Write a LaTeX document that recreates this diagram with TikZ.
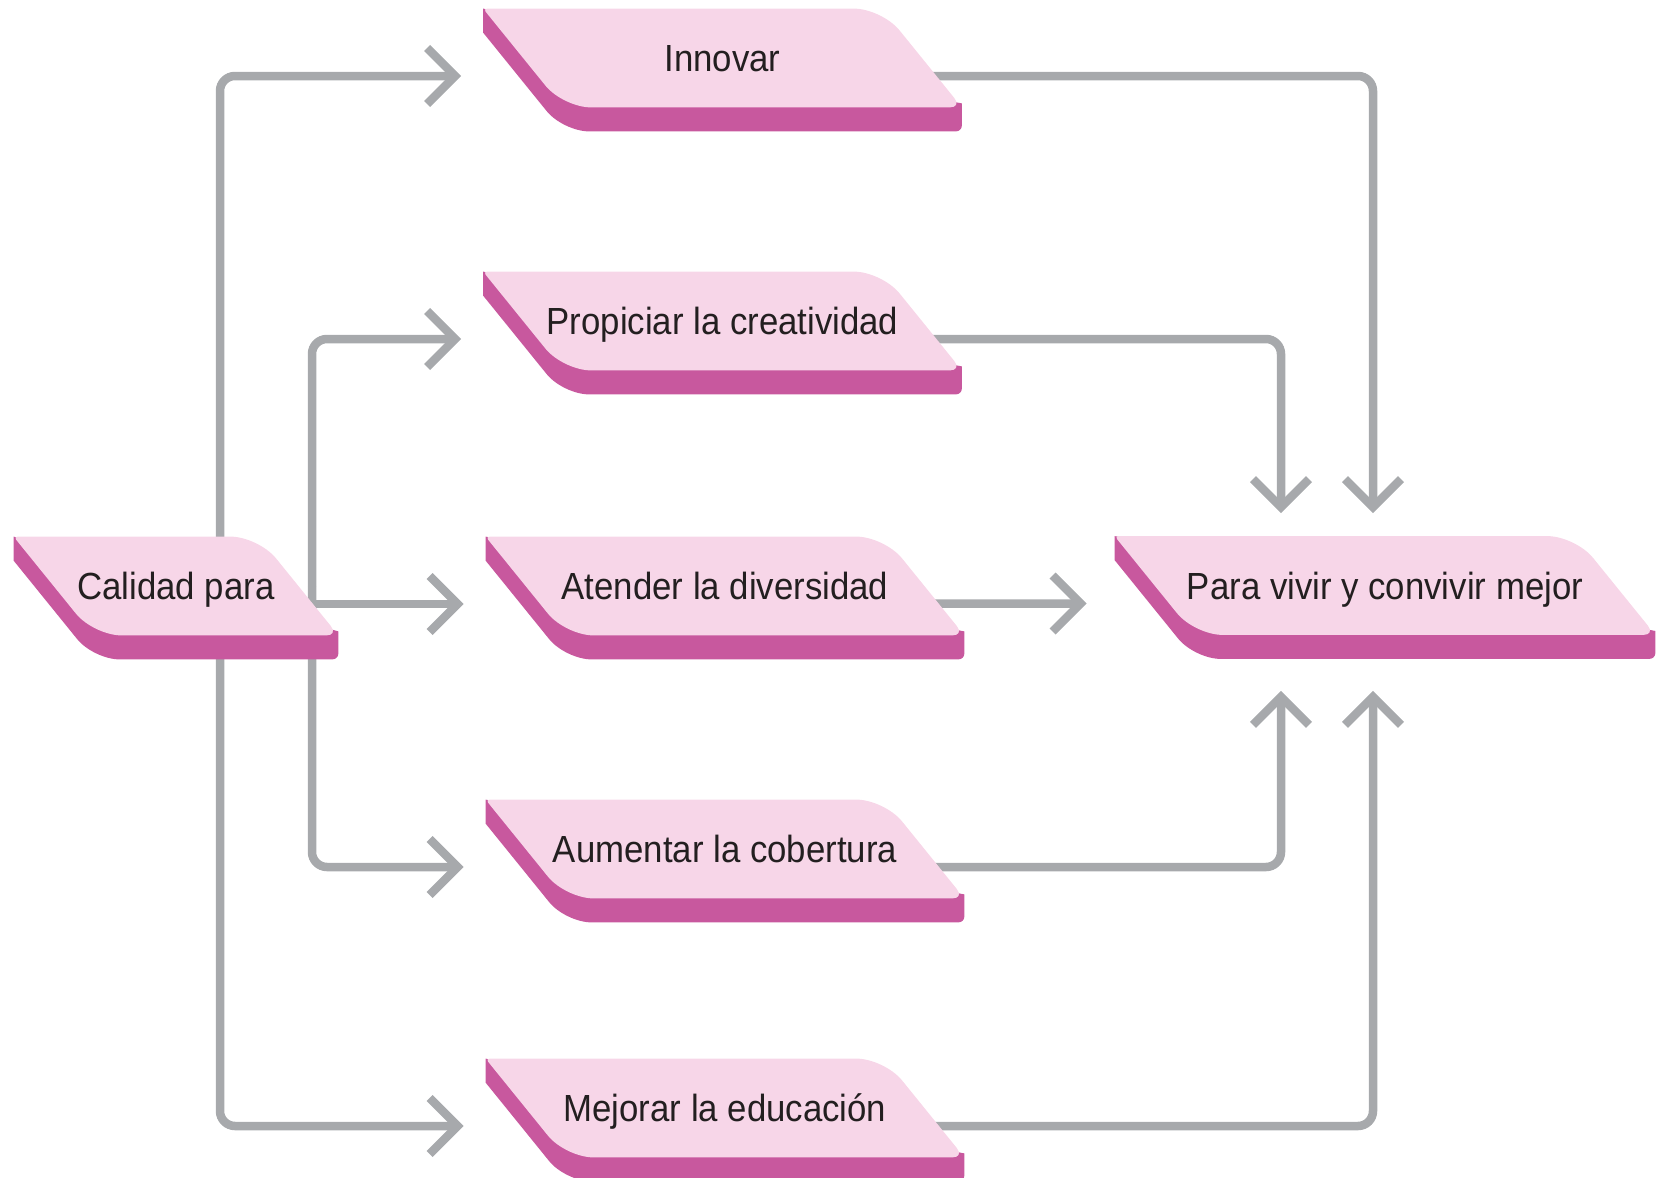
\documentclass[tikz,border=0pt]{standalone}
\usepackage{fontspec}
\setmainfont{Liberation Sans}[FakeStretch=0.92]
\usetikzlibrary{arrows.meta}

\definecolor{slabtop}{HTML}{F7D6E8}
\definecolor{slabside}{HTML}{C8589E}
\definecolor{linkgray}{HTML}{A7A9AC}
\definecolor{slabtext}{HTML}{231F20}

\pgfdeclarelayer{bg}
\pgfdeclarelayer{slabs}
\pgfsetlayers{bg,slabs,main}

\tikzset{
  slabnode/.style={rectangle, inner sep=0pt, minimum height=49pt,
    text height=13.5pt, text depth=0pt, text=slabtext,
    font=\fontsize{18.9pt}{22pt}\selectfont},
  link/.style={draw=linkgray, line width=4.25pt, rounded corners=7.5pt,
    -{Straight Barb[length=14pt,width=28pt]}}
}

\begin{document}
\begin{tikzpicture}[x=0.5pt, y=-0.5pt]
  \useasboundingbox (0,0) rectangle (1661,1178);

  \node[slabnode, minimum width=162pt] (calidad) at (176,586) {Calidad para};
  \node[slabnode, minimum width=239pt] (innovar) at (722.5,58) {Innovar};
  \node[slabnode, minimum width=239pt] (propiciar) at (722.5,321) {Propiciar la creatividad};
  \node[slabnode, minimum width=239pt] (atender) at (725,586) {Atender la diversidad};
  \node[slabnode, minimum width=239pt] (aumentar) at (725,849) {Aumentar la cobertura};
  \node[slabnode, minimum width=239pt] (mejorar) at (725,1108) {Mejorar la educación};
  \node[slabnode, minimum width=270pt] (para) at (1385,585.5) {Para vivir y convivir mejor};

  % lanes of the connectors
  \coordinate (laneA) at (220,0);
  \coordinate (laneB) at (312,0);
  \coordinate (laneC) at (1281,0);
  \coordinate (laneD) at (1373,0);
  \coordinate (paratop) at ([yshift=11.5pt]para.north);
  \coordinate (parabot) at ([yshift=-28pt]para.south);

  \begin{pgfonlayer}{bg}
    \draw[link] (laneA |- calidad.center) |- ([shift={(-11pt,-9pt)}]innovar.west);
    \draw[link] (laneB |- calidad.center) |- ([shift={(-11pt,-9pt)}]propiciar.west);
    \draw[link] ([yshift=-9pt]calidad.center) -- ([shift={(-11pt,-9pt)}]atender.west);
    \draw[link] (laneB |- calidad.center) |- ([shift={(-11pt,-9pt)}]aumentar.west);
    \draw[link] (laneA |- calidad.center) |- ([shift={(-11pt,-9pt)}]mejorar.west);

    \draw[link] ([yshift=-9pt]innovar.center) -| (laneD |- paratop);
    \draw[link] ([yshift=-9pt]propiciar.center) -| (laneC |- paratop);
    \draw[link] ([yshift=-9pt]atender.center) -- ([shift={(-14pt,-9pt)}]para.west);
    \draw[link] ([yshift=-9pt]aumentar.center) -| (laneC |- parabot);
    \draw[link] ([yshift=-9pt]mejorar.center) -| (laneD |- parabot);
  \end{pgfonlayer}

  % slabs behind the labels
  \begin{pgfonlayer}{slabs}
    \foreach \n in {calidad,innovar,propiciar,atender,aumentar,mejorar,para}{
      \fill[slabside] (\n.north west) -- ([yshift=-12pt]\n.north west)
        [rounded corners=13pt] -- ([shift={(40pt,-12pt)}]\n.south west)
        [rounded corners=3pt] -- ([yshift=-12pt]\n.south east)
        [sharp corners] -- ([yshift=2pt]\n.south east)
        -- (\n.center) -- cycle;
      \fill[slabtop] (\n.north)
        [rounded corners=14pt] -- ([xshift=-40pt]\n.north east)
        [rounded corners=6pt] -- (\n.south east)
        [rounded corners=14pt] -- ([xshift=40pt]\n.south west)
        [rounded corners=2pt] -- (\n.north west) -- cycle;
    }
  \end{pgfonlayer}
\end{tikzpicture}
\end{document}
